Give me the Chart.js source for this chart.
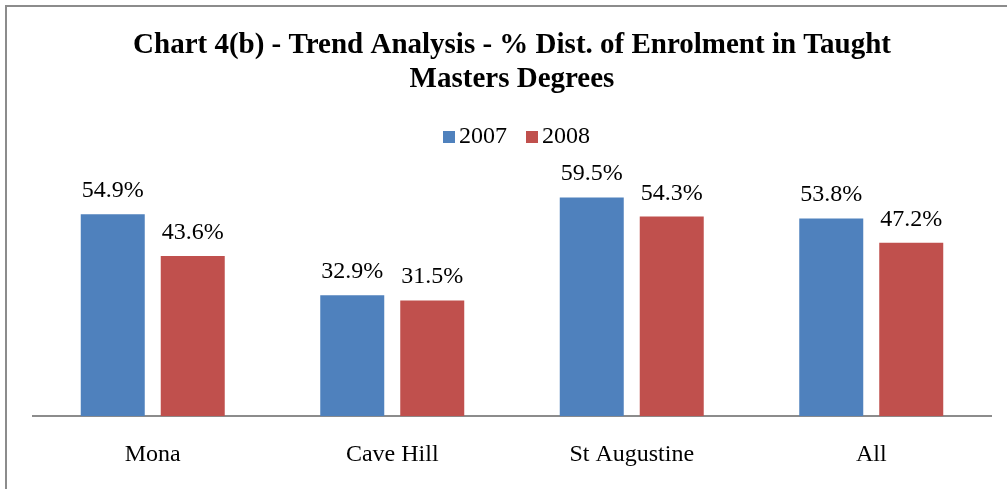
<!DOCTYPE html>
<html>
<head>
<meta charset="utf-8">
<script src="https://cdn.jsdelivr.net/npm/chart.js@4/dist/chart.umd.min.js"></script>
<style>
  html, body { margin: 0; padding: 0; background: #fff; }
  #wrap { position: relative; width: 1007px; height: 489px; overflow: hidden; }
  #frame { position: absolute; left: 5px; top: 5px; width: 1100px; height: 600px;
           border-left: 2px solid #8c8c8c; border-top: 2px solid #8c8c8c; }
  canvas { position: absolute; left: 0; top: 0; }
</style>
</head>
<body>
<div id="wrap">
  <div id="frame"></div>
  <canvas id="chart" width="1007" height="489"></canvas>
</div>
<script>
// データ
const campuses = ['Mona', 'Cave Hill', 'St Augustine', 'All'];
const pct2007 = [54.9, 32.9, 59.5, 53.8];
const pct2008 = [43.6, 31.5, 54.3, 47.2];
const titleLines = ['Chart 4(b) - Trend Analysis - % Dist. of Enrolment in Taught', 'Masters Degrees'];
const colors = ['#4F81BD', '#C0504D'];

const serif = "'Liberation Serif', 'Times New Roman', serif";

// 凡例マーカー（文字のすぐ左に四角を置く）
function legendMarker(color) {
  const c = document.createElement('canvas');
  c.width = 29;
  c.height = 12;
  const g = c.getContext('2d');
  g.fillStyle = color;
  g.fillRect(17, 0, 12, 12);
  return c;
}
const markers = colors.map(legendMarker);

// 棒の上に値ラベル
const valueLabels = {
  id: 'valueLabels',
  afterDatasetsDraw(chart) {
    const ctx = chart.ctx;
    ctx.save();
    ctx.fillStyle = '#000';
    ctx.font = '24px ' + serif;
    ctx.textAlign = 'center';
    ctx.textBaseline = 'alphabetic';
    chart.data.datasets.forEach((ds, i) => {
      chart.getDatasetMeta(i).data.forEach((bar, j) => {
        ctx.fillText(ds.data[j].toFixed(1) + '%', bar.x, bar.y - 17);
      });
    });
    ctx.restore();
  }
};

new Chart(document.getElementById('chart'), {
  type: 'bar',
  data: {
    labels: campuses,
    datasets: [
      { label: '2007', data: pct2007, backgroundColor: colors[0], pointStyle: markers[0] },
      { label: '2008', data: pct2008, backgroundColor: colors[1], pointStyle: markers[1] }
    ]
  },
  options: {
    responsive: false,
    animation: false,
    datasets: { bar: { categoryPercentage: 0.668, barPercentage: 0.8 } },
    layout: { padding: { left: 33, right: 16, top: 0, bottom: -4 } },
    scales: {
      x: {
        grid: { display: false, drawTicks: false },
        border: { display: true, color: '#8c8c8c', width: 2 },
        ticks: { color: '#000', font: { family: serif, size: 24 }, padding: 24 }
      },
      y: { display: false, min: 0, max: 70 }
    },
    plugins: {
      title: {
        display: true,
        text: titleLines,
        color: '#000',
        font: { family: serif, size: 29, weight: 'bold', lineHeight: 1.17 },
        padding: { top: 29, bottom: 18 }
      },
      legend: {
        labels: {
          color: '#000',
          font: { family: serif, size: 24 },
          usePointStyle: true,
          boxWidth: 13,
          boxHeight: 13,
          padding: 10
        }
      },
      tooltip: { enabled: false }
    }
  },
  plugins: [valueLabels]
});
</script>
</body>
</html>
